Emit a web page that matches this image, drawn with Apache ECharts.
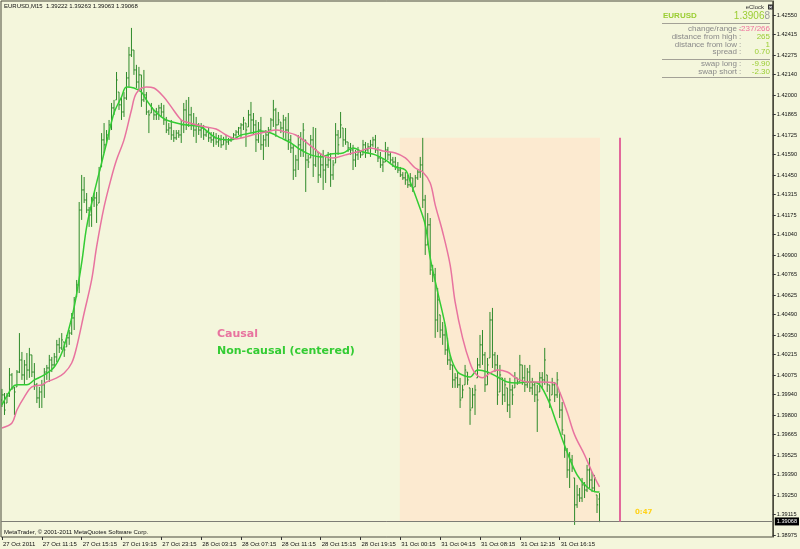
<!DOCTYPE html>
<html>
<head>
<meta charset="utf-8">
<script src="https://cdn.jsdelivr.net/npm/echarts@6/dist/echarts.min.js"></script>
<style>
  html, body { margin: 0; padding: 0; background: #F4F6DC; }
  #chart { width: 800px; height: 549px; }
</style>
</head>
<body>
<div id="chart"></div>
<script>
// EURUSD M15 bars, index 0 = 27 Oct 07:15
const barOpen = [
  1.39903,1.39938,1.39882,1.39931,1.40075,1.39986,1.39993,1.40095,1.40178,1.40075,
  1.40144,1.40109,1.40213,1.40095,1.40007,1.39917,1.39958,1.40007,1.40095,1.40123,
  1.40178,1.40144,1.40199,1.40282,1.40261,1.40302,1.40268,1.40330,1.40363,1.40467,
  1.40611,1.40694,1.41209,1.41347,1.41278,1.41209,1.41175,1.41278,1.41292,1.41257,
  1.41505,1.41691,1.41657,1.41725,1.41794,1.41911,1.41966,1.42020,1.41932,1.41883,
  1.41979,1.42117,1.42275,1.42309,1.42172,1.42089,1.42138,1.41966,1.42000,1.41883,
  1.41876,1.41897,1.41863,1.41883,1.41911,1.41883,1.41828,1.41759,1.41773,1.41725,
  1.41705,1.41738,1.41725,1.41794,1.41897,1.41794,1.41863,1.41794,1.41759,1.41794,
  1.41759,1.41773,1.41725,1.41745,1.41705,1.41691,1.41705,1.41677,1.41691,1.41657,
  1.41691,1.41677,1.41691,1.41705,1.41725,1.41745,1.41773,1.41794,1.41807,1.41780,
  1.41863,1.41828,1.41794,1.41691,1.41759,1.41657,1.41691,1.41725,1.41759,1.41828,
  1.41897,1.41794,1.41814,1.41773,1.41828,1.41759,1.41691,1.41636,1.41484,1.41553,
  1.41657,1.41622,1.41691,1.41553,1.41567,1.41691,1.41519,1.41608,1.41450,1.41519,
  1.41484,1.41519,1.41553,1.41450,1.41532,1.41725,1.41705,1.41773,1.41691,1.41677,
  1.41636,1.41622,1.41553,1.41588,1.41608,1.41588,1.41657,1.41622,1.41643,1.41657,
  1.41691,1.41622,1.41567,1.41519,1.41539,1.41622,1.41588,1.41553,1.41539,1.41505,
  1.41484,1.41450,1.41430,1.41416,1.41382,1.41430,1.41368,1.41430,1.41470,1.41519,
  1.41278,1.40969,1.41107,1.40797,1.40763,1.40453,1.40488,1.40384,1.40350,1.40247,
  1.40178,1.40144,1.40041,1.40055,1.40007,1.39917,1.40007,1.40095,1.39986,1.39848,
  1.39938,1.40055,1.40144,1.40282,1.40213,1.40007,1.40192,1.40453,1.40213,1.40144,
  1.39958,1.40055,1.39938,1.39986,1.39869,1.39972,1.39986,1.40055,1.40027,1.40144,
  1.40055,1.40007,1.40095,1.39986,1.40007,1.39938,1.39958,1.40055,1.40041,1.40075,
  1.40007,1.39938,1.40007,1.39938,1.39958,1.39834,1.39663,1.39559,1.39422,1.39491,
  1.39367,1.39182,1.39250,1.39229,1.39319,1.39284,1.39422,1.39353,1.39298,1.39250,
  1.39222
];
const barHigh = [
  1.39979,1.39951,1.39951,1.40123,1.40088,1.39993,1.40109,1.40363,1.40233,1.40178,
  1.40226,1.40261,1.40213,1.40157,1.40020,1.39993,1.40041,1.40123,1.40144,1.40213,
  1.40199,1.40226,1.40316,1.40330,1.40363,1.40302,1.40350,1.40384,1.40501,1.40611,
  1.40728,1.41264,1.41450,1.41436,1.41326,1.41230,1.41299,1.41326,1.41333,1.41505,
  1.41738,1.41807,1.41759,1.41828,1.41945,1.41966,1.42158,1.42020,1.41986,1.42020,
  1.42158,1.42330,1.42461,1.42309,1.42207,1.42193,1.42138,1.42172,1.42020,1.41897,
  1.41945,1.41897,1.41911,1.41932,1.41945,1.41932,1.41849,1.41807,1.41828,1.41759,
  1.41759,1.41759,1.41828,1.41945,1.41966,1.41986,1.41918,1.41876,1.41849,1.41807,
  1.41807,1.41794,1.41759,1.41780,1.41745,1.41745,1.41738,1.41725,1.41725,1.41712,
  1.41725,1.41705,1.41712,1.41738,1.41759,1.41780,1.41807,1.41849,1.41807,1.41897,
  1.41952,1.41876,1.41828,1.41814,1.41849,1.41725,1.41759,1.41780,1.41842,1.41966,
  1.41911,1.41883,1.41814,1.41863,1.41849,1.41876,1.41725,1.41657,1.41588,1.41725,
  1.41745,1.41807,1.41691,1.41588,1.41725,1.41780,1.41773,1.41608,1.41601,1.41622,
  1.41574,1.41608,1.41601,1.41553,1.41807,1.41759,1.41883,1.41773,1.41773,1.41677,
  1.41670,1.41657,1.41622,1.41643,1.41608,1.41691,1.41677,1.41670,1.41691,1.41712,
  1.41725,1.41643,1.41608,1.41567,1.41677,1.41643,1.41608,1.41574,1.41574,1.41539,
  1.41505,1.41470,1.41470,1.41450,1.41463,1.41430,1.41450,1.41484,1.41574,1.41705,
  1.41313,1.41188,1.41154,1.40832,1.40811,1.40673,1.40488,1.40439,1.40419,1.40330,
  1.40213,1.40144,1.40088,1.40095,1.40055,1.40007,1.40144,1.40095,1.39986,1.39986,
  1.40007,1.40192,1.40350,1.40384,1.40233,1.40192,1.40508,1.40536,1.40233,1.40213,
  1.40144,1.40055,1.40055,1.39986,1.40055,1.40007,1.40095,1.40055,1.40213,1.40144,
  1.40144,1.40123,1.40144,1.40055,1.40027,1.40007,1.40095,1.40095,1.40261,1.40075,
  1.40007,1.40055,1.40027,1.40095,1.39958,1.39889,1.39663,1.39573,1.39545,1.39525,
  1.39367,1.39319,1.39298,1.39367,1.39339,1.39457,1.39505,1.39408,1.39388,1.39250,
  1.39263
];
const barLow = [
  1.39855,1.39800,1.39882,1.39924,1.39972,1.39800,1.39993,1.40088,1.40041,1.40007,
  1.40041,1.40055,1.40061,1.39972,1.39882,1.39848,1.39848,1.39917,1.40041,1.40027,
  1.40095,1.40130,1.40164,1.40226,1.40247,1.40199,1.40268,1.40282,1.40350,1.40384,
  1.40611,1.40638,1.41141,1.41257,1.41188,1.41093,1.41093,1.41230,1.41120,1.41257,
  1.41505,1.41601,1.41657,1.41691,1.41759,1.41863,1.41966,1.41897,1.41828,1.41849,
  1.41966,1.42055,1.42261,1.42138,1.42048,1.42034,1.41918,1.41952,1.41863,1.41738,
  1.41876,1.41828,1.41828,1.41828,1.41849,1.41794,1.41738,1.41725,1.41691,1.41677,
  1.41691,1.41705,1.41670,1.41738,1.41759,1.41780,1.41759,1.41712,1.41670,1.41725,
  1.41705,1.41691,1.41712,1.41677,1.41670,1.41643,1.41657,1.41643,1.41636,1.41657,
  1.41622,1.41657,1.41677,1.41691,1.41712,1.41725,1.41705,1.41759,1.41643,1.41780,
  1.41738,1.41725,1.41608,1.41670,1.41622,1.41553,1.41643,1.41643,1.41759,1.41780,
  1.41712,1.41794,1.41738,1.41705,1.41691,1.41622,1.41601,1.41416,1.41436,1.41484,
  1.41574,1.41574,1.41333,1.41498,1.41567,1.41436,1.41505,1.41395,1.41430,1.41347,
  1.41395,1.41498,1.41368,1.41416,1.41532,1.41588,1.41705,1.41643,1.41657,1.41608,
  1.41588,1.41484,1.41505,1.41553,1.41567,1.41588,1.41567,1.41601,1.41574,1.41643,
  1.41601,1.41539,1.41498,1.41470,1.41539,1.41553,1.41532,1.41505,1.41484,1.41463,
  1.41436,1.41416,1.41382,1.41361,1.41368,1.41333,1.41368,1.41416,1.41430,1.41223,
  1.40900,1.40969,1.40763,1.40714,1.40330,1.40370,1.40330,1.40282,1.40213,1.40144,
  1.40109,1.39986,1.39986,1.39986,1.39848,1.39917,1.40007,1.40007,1.39732,1.39848,
  1.39800,1.40055,1.40123,1.40144,1.39958,1.40007,1.40192,1.40123,1.40095,1.39869,
  1.39958,1.39869,1.39889,1.39820,1.39779,1.39869,1.39986,1.40007,1.40027,1.40007,
  1.39958,1.39986,1.39958,1.39938,1.39889,1.39683,1.39958,1.39986,1.40007,1.39958,
  1.39848,1.39938,1.39889,1.39917,1.39779,1.39663,1.39505,1.39367,1.39298,1.39408,
  1.39044,1.39161,1.39202,1.39202,1.39229,1.39270,1.39298,1.39270,1.39270,1.39126,
  1.39063
];
const barClose = [
  1.39938,1.39834,1.39931,1.40075,1.39986,1.39958,1.40095,1.40178,1.40075,1.40144,
  1.40109,1.40213,1.40095,1.40007,1.39917,1.39958,1.40007,1.40095,1.40123,1.40178,
  1.40144,1.40199,1.40282,1.40261,1.40316,1.40247,1.40330,1.40363,1.40467,1.40591,
  1.40694,1.41209,1.41347,1.41278,1.41209,1.41175,1.41278,1.41292,1.41244,1.41484,
  1.41691,1.41657,1.41725,1.41794,1.41911,1.41897,1.42103,1.41932,1.41883,1.41979,
  1.42117,1.42275,1.42309,1.42172,1.42089,1.42138,1.41966,1.42000,1.41883,1.41863,
  1.41911,1.41863,1.41883,1.41911,1.41883,1.41828,1.41759,1.41773,1.41725,1.41705,
  1.41738,1.41725,1.41794,1.41897,1.41794,1.41863,1.41794,1.41759,1.41794,1.41759,
  1.41773,1.41725,1.41745,1.41705,1.41691,1.41705,1.41677,1.41691,1.41657,1.41691,
  1.41677,1.41691,1.41705,1.41725,1.41745,1.41773,1.41794,1.41828,1.41759,1.41863,
  1.41828,1.41794,1.41691,1.41759,1.41657,1.41691,1.41725,1.41759,1.41828,1.41897,
  1.41794,1.41828,1.41773,1.41828,1.41759,1.41691,1.41636,1.41484,1.41553,1.41657,
  1.41622,1.41759,1.41553,1.41539,1.41691,1.41519,1.41622,1.41450,1.41519,1.41484,
  1.41519,1.41553,1.41450,1.41519,1.41725,1.41657,1.41794,1.41691,1.41677,1.41636,
  1.41622,1.41553,1.41588,1.41608,1.41588,1.41657,1.41622,1.41643,1.41657,1.41691,
  1.41622,1.41567,1.41519,1.41539,1.41622,1.41588,1.41553,1.41539,1.41505,1.41484,
  1.41450,1.41430,1.41416,1.41382,1.41430,1.41361,1.41430,1.41470,1.41519,1.41278,
  1.40969,1.41107,1.40797,1.40763,1.40453,1.40591,1.40384,1.40350,1.40247,1.40178,
  1.40144,1.40041,1.40055,1.40007,1.39903,1.39972,1.40109,1.40041,1.39834,1.39938,
  1.39972,1.40144,1.40282,1.40213,1.40007,1.40144,1.40453,1.40213,1.40144,1.39938,
  1.40075,1.39938,1.40007,1.39869,1.39972,1.39938,1.40055,1.40027,1.40144,1.40055,
  1.40007,1.40095,1.39986,1.40007,1.39938,1.39903,1.40055,1.40041,1.40178,1.40007,
  1.39903,1.40007,1.39938,1.40041,1.39834,1.39697,1.39559,1.39422,1.39491,1.39436,
  1.39182,1.39250,1.39229,1.39319,1.39284,1.39422,1.39353,1.39298,1.39367,1.39182,
  1.39068
];

// moving averages, read as [bar index, price]
const causalMA = [
  [0,1.39711],[4,1.39745],[6,1.39834],[9,1.39924],[12,1.39993],[16,1.40007],[18,1.40027],
  [22,1.40055],[25,1.40088],[28,1.40157],[30,1.40268],[33,1.40501],[36,1.40728],[38,1.40955],
  [41,1.41230],[44,1.41436],[46,1.41553],[49,1.41691],[52,1.41897],[54,1.42013],[58,1.42055],
  [61,1.42048],[65,1.41986],[68,1.41918],[72,1.41828],[74,1.41814],[80,1.41786],[86,1.41766],
  [90,1.41725],[94,1.41698],[98,1.41712],[102,1.41732],[106,1.41745],[110,1.41759],[114,1.41745],
  [118,1.41725],[122,1.41677],[126,1.41622],[130,1.41574],[133,1.41567],[138,1.41588],[144,1.41615],
  [148,1.41636],[153,1.41615],[158,1.41601],[162,1.41567],[166,1.41498],[169,1.41470],[172,1.41395],
  [174,1.41244],[177,1.41058],[180,1.40832],[182,1.40577],[185,1.40330],[188,1.40157],[190,1.40088],
  [193,1.40055],[196,1.40088],[199,1.40109],[203,1.40095],[207,1.40048],[211,1.40027],[216,1.40027],
  [222,1.40020],[224,1.39958],[227,1.39820],[230,1.39663],[234,1.39525],[237,1.39408],[240,1.39305]
];
const centeredMA = [
  [0,1.39869],[4,1.39986],[6,1.40007],[10,1.40007],[13,1.40041],[17,1.40075],[21,1.40130],
  [24,1.40226],[26,1.40337],[29,1.40543],[32,1.40845],[34,1.41093],[37,1.41326],[40,1.41532],
  [42,1.41670],[45,1.41876],[48,1.41986],[50,1.42055],[53,1.42048],[56,1.42020],[58,1.41966],
  [61,1.41897],[64,1.41849],[66,1.41828],[70,1.41807],[74,1.41794],[80,1.41780],[86,1.41705],
  [92,1.41691],[96,1.41725],[100,1.41738],[104,1.41752],[108,1.41738],[112,1.41705],[116,1.41670],
  [120,1.41622],[124,1.41588],[128,1.41574],[132,1.41594],[137,1.41601],[141,1.41636],[145,1.41608],
  [150,1.41588],[154,1.41553],[158,1.41505],[162,1.41484],[164,1.41402],[167,1.41264],[170,1.41107],
  [172,1.40880],[175,1.40645],[178,1.40419],[180,1.40213],[183,1.40095],[186,1.40068],[188,1.40061],
  [191,1.40109],[195,1.40095],[199,1.40061],[203,1.40027],[207,1.40020],[211,1.40027],[215,1.40020],
  [219,1.39917],[223,1.39732],[227,1.39545],[231,1.39388],[235,1.39305],[239,1.39270],[240,1.39270]
];

const priceTicks = [
  '1.42550','1.42415','1.42275','1.42140','1.42000','1.41865','1.41725','1.41590','1.41450',
  '1.41315','1.41175','1.41040','1.40900','1.40765','1.40625','1.40490','1.40350','1.40215',
  '1.40075','1.39940','1.39800','1.39665','1.39525','1.39390','1.39250','1.39115','1.38975'
];
const timeTickBars = [0, 16, 32, 48, 64, 80, 96, 112, 128, 144, 160, 176, 192, 208, 224];
const timeTickLabels = [
  '27 Oct 2011','27 Oct 11:15','27 Oct 15:15','27 Oct 19:15','27 Oct 23:15',
  '28 Oct 03:15','28 Oct 07:15','28 Oct 11:15','28 Oct 15:15','28 Oct 19:15',
  '31 Oct 00:15','31 Oct 04:15','31 Oct 08:15','31 Oct 12:15','31 Oct 16:15'
];

const bidPrice = 1.39068;
const zoneStart = 160, zoneEnd = 240, zoneTop = 1.41705;
const futureBar = 248.3;
const xMin = -0.4, xMax = 309.6;

const infoLabels = ['change/range', 'distance from high', 'distance from low', 'spread', 'swap long', 'swap short'];
const infoValues = ['-237/266', '265', '1', '0.70', '-9.90', '-2.30'];

const bg = '#F4F6DC';
const barColor = '#2e8a2a';
const greenMA = '#33CC33';
const pinkMA = '#E8739F';
const smallFont = '"Liberation Sans", Arial, sans-serif';

const ohlc = barOpen.map((o, i) => [i, o, barHigh[i], barLow[i], barClose[i]]);

function renderBar(params, api) {
  const i = api.value(0);
  const pO = api.coord([i, api.value(1)]);
  const pH = api.coord([i, api.value(2)]);
  const pL = api.coord([i, api.value(3)]);
  const pC = api.coord([i, api.value(4)]);
  const x = pH[0];
  const style = { stroke: barColor, lineWidth: 1 };
  return {
    type: 'group',
    children: [
      { type: 'line', shape: { x1: x, y1: pH[1], x2: x, y2: pL[1] }, style: style },
      { type: 'line', shape: { x1: x - 1.2, y1: pO[1], x2: x, y2: pO[1] }, style: style },
      { type: 'line', shape: { x1: x, y1: pC[1], x2: x + 1.2, y2: pC[1] }, style: style }
    ]
  };
}

const rowY = [29, 37, 44.5, 52, 64, 71.5];
const panel = [];
infoLabels.forEach((lab, k) => {
  panel.push({ type: 'text', x: 737, y: rowY[k], silent: true,
    style: { text: lab, font: '8px ' + smallFont, fill: '#8a8a8a', align: 'right', verticalAlign: 'middle' } });
  panel.push({ type: 'text', x: 739, y: rowY[k], silent: true,
    style: { text: ':', font: '8px ' + smallFont, fill: '#8a8a8a', align: 'left', verticalAlign: 'middle' } });
  panel.push({ type: 'text', x: 770, y: rowY[k], silent: true,
    style: { text: infoValues[k], font: '8px ' + smallFont, fill: k === 0 ? '#F0709C' : '#9ACD32', align: 'right', verticalAlign: 'middle' } });
});
[23.5, 59.5, 77.5].forEach(y => {
  panel.push({ type: 'line', silent: true, shape: { x1: 662, y1: y, x2: 770, y2: y }, style: { stroke: '#a3a196', lineWidth: 1 } });
});

const chart = echarts.init(document.getElementById('chart'));
chart.setOption({
  backgroundColor: bg,
  animation: false,
  grid: { left: 1, right: 24, top: 1, bottom: 12, show: true, borderColor: '#4a4a3c', borderWidth: 1, backgroundColor: bg },
  xAxis: {
    type: 'value', min: xMin, max: xMax,
    axisLine: { show: false, onZero: false },
    splitLine: { show: false },
    axisTick: { show: true, customValues: timeTickBars, length: 3, lineStyle: { color: '#333' } },
    axisLabel: {
      customValues: timeTickBars,
      formatter: v => timeTickLabels[timeTickBars.indexOf(v)],
      align: 'left', margin: 4, fontSize: 6, fontFamily: smallFont, color: '#111', padding: [0, 0, 0, 1]
    }
  },
  yAxis: {
    type: 'value', position: 'right', min: 1.38961, max: 1.42646, scale: true,
    axisLine: { show: true, onZero: false, lineStyle: { color: '#4a4a3c' } },
    splitLine: { show: false },
    axisTick: { show: true, customValues: priceTicks.map(Number), length: 3, lineStyle: { color: '#333' } },
    axisLabel: {
      customValues: priceTicks.map(Number),
      formatter: v => v.toFixed(5),
      margin: 4, fontSize: 5.6, fontFamily: smallFont, color: '#111'
    }
  },
  series: [
    {
      // shaded zone, bid line and the pink time marker
      type: 'line',
      name: 'zone',
      data: [[zoneStart, bidPrice]],
      showSymbol: false,
      lineStyle: { opacity: 0 },
      z: 1,
      markArea: {
        silent: true,
        itemStyle: { color: '#FCEAD0' },
        data: [[{ coord: [zoneStart - 0.2, zoneTop] }, { coord: [zoneEnd + 0.2, bidPrice] }]]
      },
      markLine: {
        silent: true,
        symbol: 'none',
        data: [
          [
            {
              coord: [xMin, bidPrice],
              lineStyle: { color: '#7d7d75', width: 1, type: 'solid' },
              label: {
                show: true, position: 'end', distance: 2,
                formatter: bidPrice.toFixed(5),
                backgroundColor: '#000', color: '#fff', fontSize: 5.6, fontFamily: smallFont, padding: [1, 2]
              }
            },
            { coord: [xMax, bidPrice] }
          ],
          [
            { coord: [futureBar, zoneTop], lineStyle: { color: '#E2689B', width: 2, type: 'solid' }, label: { show: false } },
            { coord: [futureBar, bidPrice] }
          ]
        ]
      }
    },
    {
      type: 'custom',
      name: 'bars',
      renderItem: renderBar,
      data: ohlc,
      encode: { x: 0, y: [1, 2, 3, 4] },
      clip: true,
      z: 2
    },
    {
      type: 'line', name: 'Non-causal (centered)', data: centeredMA,
      showSymbol: false, smooth: 0.35, z: 3,
      lineStyle: { color: greenMA, width: 1.5 }
    },
    {
      type: 'line', name: 'Causal', data: causalMA,
      showSymbol: false, smooth: 0.35, z: 4,
      lineStyle: { color: pinkMA, width: 1.5 }
    }
  ],
  graphic: [
    { type: 'text', x: 4, y: 6.5, silent: true,
      style: { text: 'EURUSD,M15  1.39222 1.39263 1.39063 1.39068', font: '6px ' + smallFont, fill: '#111', verticalAlign: 'middle' } },
    { type: 'text', x: 4, y: 532, silent: true,
      style: { text: 'MetaTrader, © 2001-2011 MetaQuotes Software Corp.', font: '6px ' + smallFont, fill: '#111', verticalAlign: 'middle' } },
    { type: 'text', x: 217, y: 334, silent: true,
      style: { text: 'Causal', font: 'bold 11px "DejaVu Sans"', fill: pinkMA, verticalAlign: 'middle' } },
    { type: 'text', x: 217, y: 351, silent: true,
      style: { text: 'Non-causal (centered)', font: 'bold 11px "DejaVu Sans"', fill: greenMA, verticalAlign: 'middle' } },
    { type: 'text', x: 635, y: 512.5, silent: true,
      style: { text: '0:47', font: 'bold 7px "DejaVu Sans"', fill: '#FFD21A', verticalAlign: 'middle' } },
    { type: 'text', x: 764, y: 7, silent: true,
      style: { text: 'eClock', font: '6px ' + smallFont, fill: '#333', align: 'right', verticalAlign: 'middle' } },
    { type: 'rect', x: 768, y: 4.5, shape: { width: 5, height: 5 }, silent: true, style: { fill: '#333' } },
    { type: 'text', x: 770.5, y: 7, silent: true,
      style: { text: '×', font: 'bold 6px ' + smallFont, fill: '#fff', align: 'center', verticalAlign: 'middle' } },
    { type: 'text', x: 663, y: 16, silent: true,
      style: { text: 'EURUSD', font: 'bold 8px ' + smallFont, fill: '#9ACD32', verticalAlign: 'middle' } },
    { type: 'text', x: 770, y: 16, silent: true,
      style: {
        text: '{a|1.3906}{b|8}', align: 'right', verticalAlign: 'middle',
        rich: {
          a: { fill: '#9ACD32', fontSize: 10, fontFamily: smallFont },
          b: { fill: '#9a9a9a', fontSize: 10, fontFamily: smallFont }
        }
      } }
  ].concat(panel)
});
</script>
</body>
</html>
